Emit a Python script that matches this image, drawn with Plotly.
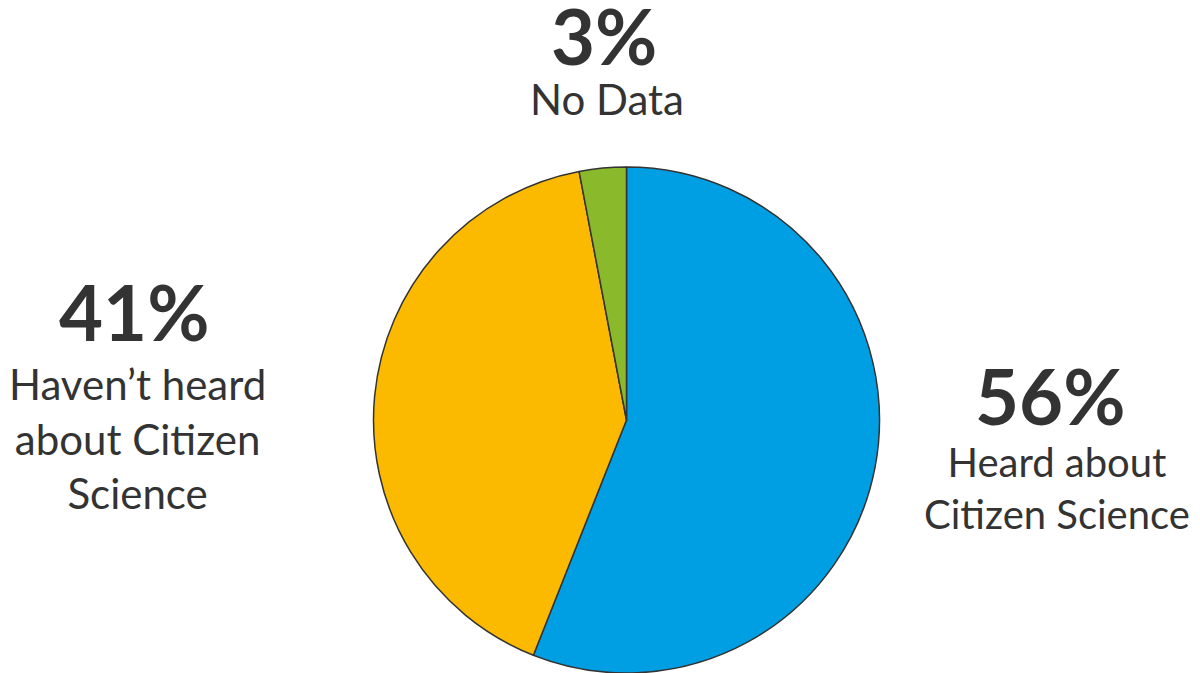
import plotly.graph_objects as go

# survey answers, clockwise from 12 o'clock
labels = ["Heard about Citizen Science", "Haven't heard about Citizen Science", "No Data"]
values = [56, 41, 3]
colors = ["#009fe3", "#fbba00", "#8bb92c"]

pct_text = ["56%", "41%", "3%"]
caption_text = ["Heard about<br>Citizen Science", "Haven’t heard<br>about Citizen<br>Science", "No Data"]

# page body keeps its default 8px margin, so size the figure to fit the window
OFF = 8
W, H = 1200 - OFF, 673 - OFF
TEXT = "#333333"


def px(sx):
    return (sx - OFF) / W


def py(sy):
    return 1 - (sy - OFF) / H


fig = go.Figure(go.Pie(
    labels=labels,
    values=values,
    sort=False,
    direction="clockwise",
    rotation=0,
    marker=dict(colors=colors, line=dict(color="#333333", width=1.5)),
    textinfo="none",
    hoverinfo="label+percent",
    showlegend=False,
    domain=dict(x=[px(373), px(880)], y=[max(0, py(673)), py(167)]),
))

# where each label block sits (screen pixel centres of percent and caption)
pct_pos = [(1050, 395), (134, 312), (604, 35)]
cap_pos = [(1057, 488), (137, 439), (607, 99)]
cap_size = [40, 42, 42]

annotations = []
for i in range(len(values)):
    x0, y0 = pct_pos[i]
    annotations.append(dict(
        text=f"<b>{pct_text[i]}</b>", x=px(x0), y=py(y0), xref="paper", yref="paper",
        showarrow=False, xanchor="center", yanchor="middle",
        font=dict(family="Lato", size=76, color=TEXT, weight=900),
    ))
    x1, y1 = cap_pos[i]
    annotations.append(dict(
        text=caption_text[i], x=px(x1), y=py(y1), xref="paper", yref="paper",
        showarrow=False, xanchor="center", yanchor="middle", align="center",
        font=dict(family="Lato", size=cap_size[i], color=TEXT),
    ))

fig.update_layout(
    width=W,
    height=H,
    margin=dict(l=0, r=0, t=0, b=0),
    paper_bgcolor="white",
    plot_bgcolor="white",
    annotations=annotations,
)

fig.write_html("out.html")
